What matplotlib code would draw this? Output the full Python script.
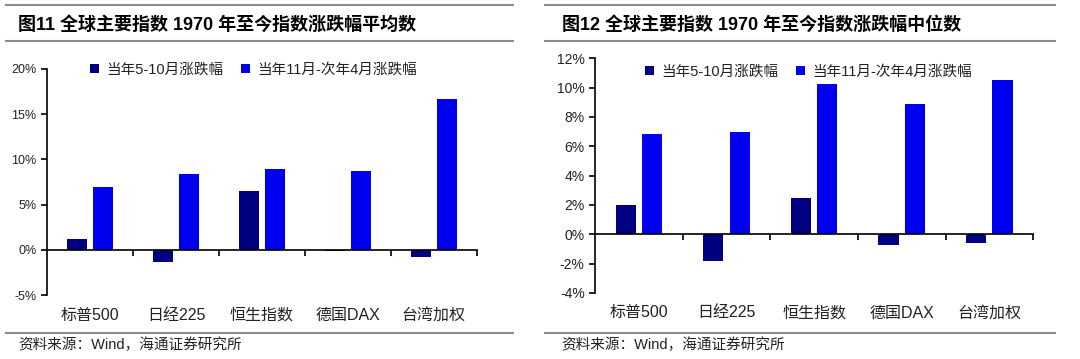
import matplotlib.pyplot as plt
import numpy as np
from matplotlib.lines import Line2D
from matplotlib.ticker import FuncFormatter

plt.rcParams['font.family'] = ['Liberation Sans', 'Noto Sans CJK SC', 'DejaVu Sans']

categories = ['标普500', '日经225', '恒生指数', '德国DAX', '台湾加权']
series_names = ['当年5-10月涨跌幅', '当年11月-次年4月涨跌幅']

# mean returns (%)
mean_may_oct = [1.2, -1.35, 6.5, -0.1, -0.8]
mean_nov_apr = [7.0, 8.4, 8.9, 8.7, 16.7]

# median returns (%)
median_may_oct = [2.0, -1.8, 2.5, -0.7, -0.6]
median_nov_apr = [6.8, 6.95, 10.25, 8.85, 10.5]

titles = ['图11 全球主要指数 1970 年至今指数涨跌幅平均数',
          '图12 全球主要指数 1970 年至今指数涨跌幅中位数']
source = '资料来源：Wind，海通证券研究所'

dark = '#000080'
blue = '#0000F0'
grey = '#8c8c8c'
fam = ['Liberation Sans', 'Noto Sans CJK SC', 'DejaVu Sans']

fig = plt.figure(figsize=(10.8, 3.59), dpi=100)

panels = [
    dict(rect=[0.0435, 0.178, 0.398, 0.630], s1=mean_may_oct, s2=mean_nov_apr,
         ylim=(-5, 20), step=5, tsize=9, leg=(0.07, 1.085), title=titles[0],
         tx=0.017, lx=(0.006, 0.475)),
    dict(rect=[0.551, 0.184, 0.4056, 0.654], s1=median_may_oct, s2=median_nov_apr,
         ylim=(-4, 12), step=2, tsize=10, leg=(0.085, 1.028), title=titles[1],
         tx=0.520, lx=(0.505, 0.977)),
]

x = np.arange(len(categories))
w = 0.23
gap = 0.035

for p in panels:
    ax = fig.add_axes(p['rect'])
    ax.bar(x - w / 2 - gap, p['s1'], w, color=dark, label=series_names[0])
    ax.bar(x + w / 2 + gap, p['s2'], w, color=blue, label=series_names[1])
    ax.set_xlim(-0.5, len(categories) - 0.5)
    ax.set_ylim(*p['ylim'])
    ax.set_yticks(np.arange(p['ylim'][0], p['ylim'][1] + 0.1, p['step']))
    ax.yaxis.set_major_formatter(FuncFormatter(lambda v, _: f'{v:.0f}%'))
    ax.tick_params(axis='y', labelsize=p['tsize'], length=4, width=1.2, direction='out',
                   labelcolor='#222222')
    for s in ['top', 'right']:
        ax.spines[s].set_visible(False)
    ax.spines['left'].set_linewidth(1.2)
    ax.spines['bottom'].set_position(('data', 0))
    ax.spines['bottom'].set_linewidth(1.2)
    ax.set_xticks(x + 0.5)
    ax.set_xticklabels([])
    ax.tick_params(axis='x', length=4, width=1.2, direction='out')
    sec = ax.secondary_xaxis('bottom')
    sec.set_xticks(x)
    sec.set_xticklabels(categories, family=fam, fontsize=11.5, color='#222222')
    sec.tick_params(length=0, pad=9)
    sec.spines['bottom'].set_visible(False)
    leg = ax.legend(loc='upper left', bbox_to_anchor=p['leg'], ncol=2, frameon=False,
                    handlelength=0.6, handleheight=0.6, handletextpad=0.5,
                    columnspacing=1.2, prop={'family': fam, 'size': 10.5})
    for t in leg.get_texts():
        t.set_color('#222222')
    fig.text(p['tx'], 0.930, p['title'], fontsize=13, fontweight='bold',
             family=fam, va='center', ha='left')
    fig.text(p['tx'], 0.039, source, fontsize=10.5, family=fam, va='center', ha='left',
             color='#222222')
    for yy in [0.986, 0.886, 0.072]:
        fig.add_artist(Line2D(p['lx'], [yy, yy], color=grey, lw=1.5,
                              transform=fig.transFigure))

fig.savefig('out.png', dpi=100)
